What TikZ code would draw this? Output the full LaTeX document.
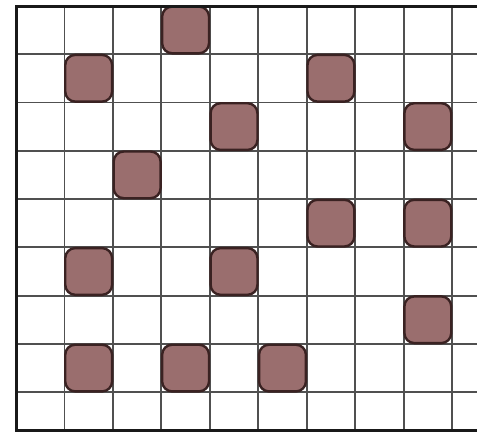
\documentclass[tikz,border=0pt]{standalone}
\definecolor{sqfill}{HTML}{9A6E6E}
\definecolor{sqline}{HTML}{3A2222}
\definecolor{gridc}{HTML}{505050}
\tikzset{
  gridline/.style={draw=gridc, line width=1.8pt},
  borderline/.style={draw=black!90, line width=3pt},
  sq/.style={fill=sqfill, draw=sqline, line width=2.4pt, rounded corners=10pt}
}
\begin{document}
\begin{tikzpicture}[x=1pt,y=-1pt]
\useasboundingbox (0,0) rectangle (477,432);
\fill[white] (0,0) rectangle (477,432);
% vertical grid lines
\foreach \i in {1,...,9} {
  \draw[gridline] ({16+48.45*\i},6) -- ({16+48.45*\i},430);
}
% horizontal grid lines
\foreach \j in {1,...,8} {
  \draw[gridline] (16,{5.8+48.3*\j}) -- (477,{5.8+48.3*\j});
}
% squares (col,row)
\foreach \c/\r in {3/0, 1/1, 6/1, 4/2, 8/2, 2/3, 6/4, 8/4, 1/5, 4/5, 8/6, 1/7, 3/7, 5/7} {
  \draw[sq] ({16+48.45*\c+0.8},{5.8+48.3*\r+0.8}) rectangle ({16+48.45*(\c+1)-0.8},{5.8+48.3*(\r+1)-0.8});
}
% border
\draw[borderline] (477,6) -- (16,6) -- (16,430) -- (477,430);
\end{tikzpicture}
\end{document}
